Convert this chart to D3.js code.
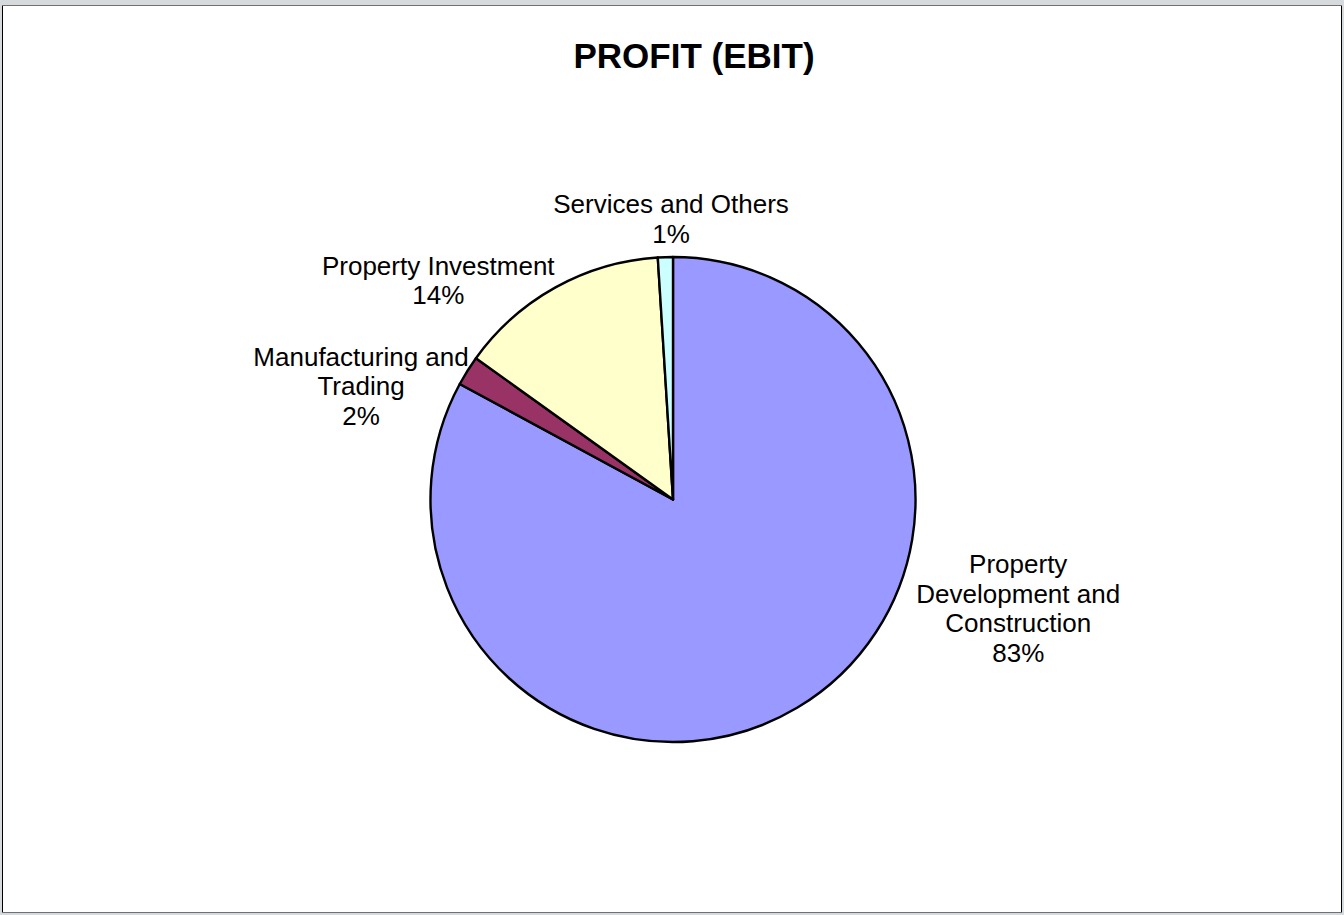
<!DOCTYPE html>
<html>
<head>
<meta charset="utf-8">
<script src="https://cdn.jsdelivr.net/npm/d3@7"></script>
<style>
  html, body { margin: 0; padding: 0; background: #fff; }
  svg { display: block; }
</style>
</head>
<body>
<div id="chart"></div>
<script>
// slice data, clockwise from 12 o'clock
const categories = ['Property Development and Construction', 'Manufacturing and Trading', 'Property Investment', 'Services and Others'];
const values = [82.9, 2.0, 14.1, 1.0];
const colors = ['#9999ff', '#993366', '#ffffcc', '#ccffff'];
const labelLines = [
  ['Property', 'Development and', 'Construction'],
  ['Manufacturing and', 'Trading'],
  ['Property Investment'],
  ['Services and Others']
];
const title = 'PROFIT (EBIT)';

const width = 1344,
  height = 915,
  cx = 673,
  cy = 499.5,
  radius = 242.5,
  fontFamily = '"Liberation Sans", Arial, Helvetica, sans-serif',
  labelSize = 26,
  linePitch = 29.5;

// where the data labels sit, polar from pie centre (degrees clockwise from top, px)
const labelAngle = [107.5, -70, -47, -0.4],
  labelDist = [362, 332, 321, 280.5];

const svg = d3.select('#chart').append('svg')
  .attr('width', width)
  .attr('height', height)
  .attr('viewBox', [0, 0, width, height]);

// window frame
svg.append('rect').attr('width', width).attr('height', height).attr('fill', '#d6dadd');
svg.append('rect')
  .attr('x', 2).attr('y', 5)
  .attr('width', 1340).attr('height', 908)
  .attr('fill', '#fff');
svg.append('line').attr('x1', 2).attr('x2', 1342).attr('y1', 5.5).attr('y2', 5.5).attr('stroke', '#707070');
svg.append('line').attr('x1', 2).attr('x2', 1342).attr('y1', 912.5).attr('y2', 912.5).attr('stroke', '#707070');
svg.append('line').attr('x1', 2.5).attr('x2', 2.5).attr('y1', 6).attr('y2', 912).attr('stroke', '#000');
svg.append('line').attr('x1', 1341.5).attr('x2', 1341.5).attr('y1', 6).attr('y2', 912).attr('stroke', '#000');

svg.append('text')
  .attr('x', 694)
  .attr('y', 68)
  .attr('text-anchor', 'middle')
  .style('font', `bold 35px ${fontFamily}`)
  .text(title);

const pie = d3.pie().sort(null).value(d => d);
const arc = d3.arc().innerRadius(0).outerRadius(radius);
const total = d3.sum(values);
const pct = d3.format('.0%');

const g = svg.append('g').attr('transform', `translate(${cx},${cy})`);

g.selectAll('path')
  .data(pie(values))
  .join('path')
  .attr('d', arc)
  .attr('fill', (d, i) => colors[i])
  .attr('stroke', '#000')
  .attr('stroke-width', 2.4)
  .attr('stroke-linejoin', 'round');

const labels = g.selectAll('text.label')
  .data(values)
  .join('text')
  .attr('class', 'label')
  .attr('text-anchor', 'middle')
  .style('font', `${labelSize}px ${fontFamily}`)
  .attr('fill', '#000')
  .each(function(v, i) {
    const a = labelAngle[i] * Math.PI / 180,
      x = labelDist[i] * Math.sin(a),
      y = -labelDist[i] * Math.cos(a);
    const lines = labelLines[i].concat(pct(v / total));
    const y0 = y - (lines.length - 1) / 2 * linePitch + labelSize * 0.35;
    d3.select(this).selectAll('tspan')
      .data(lines)
      .join('tspan')
      .attr('x', x)
      .attr('y', (d, j) => y0 + j * linePitch)
      .text(d => d);
  });
</script>
</body>
</html>
